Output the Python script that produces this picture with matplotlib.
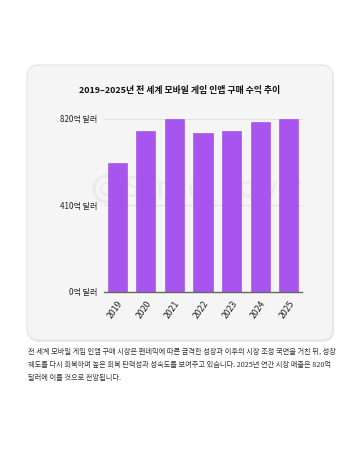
import matplotlib
matplotlib.use('Agg')
import matplotlib.pyplot as plt
from matplotlib.patches import FancyBboxPatch, Circle

plt.rcParams['font.family'] = ['Noto Sans CJK KR', 'DejaVu Sans']

# data
years = ['2019', '2020', '2021', '2022', '2023', '2024', '2025']
revenue = [612, 763, 820, 752, 763, 806, 820]   # 억 달러
ytick_vals = [0, 410, 820]
ytick_labels = ['0억 달러', '410억 달러', '820억 달러']

title = '2019–2025년 전 세계 모바일 게임 인앱 구매 수익 추이'
caption = ('전 세계 모바일 게임 인앱 구매 시장은 팬데믹에 따른 급격한 성장과 이후의 시장 조정 국면을 거친 뒤, 성장\n'
           '궤도를 다시 회복하며 높은 회복 탄력성과 성숙도를 보여주고 있습니다. 2025년 연간 시장 매출은 820억\n'
           '달러에 이를 것으로 전망됩니다.')

W, H = 359, 454
fig = plt.figure(figsize=(W / 100, H / 100), dpi=100)
fig.patch.set_facecolor('white')

# background layer in pixel coords
bg = fig.add_axes([0, 0, 1, 1], zorder=0)
bg.set_xlim(0, W)
bg.set_ylim(H, 0)
bg.axis('off')
shadow = FancyBboxPatch((28, 67), 306, 275, boxstyle='round,pad=0,rounding_size=11',
                        facecolor='#e9e9e9', edgecolor='none')
bg.add_patch(shadow)
card = FancyBboxPatch((27, 65), 306, 275, boxstyle='round,pad=0,rounding_size=11',
                      facecolor='#f5f5f5', edgecolor='#e4e4e4', linewidth=0.8)
bg.add_patch(card)
bg.text(180, 91, title, ha='center', va='center', fontsize=6.4, fontweight='bold', color='#111111')
bg.text(28, 348, caption, ha='left', va='top', fontsize=5.2, color='#333333', linespacing=1.85)

# watermark
bg.add_patch(Circle((107, 189), 13, facecolor='none', edgecolor='#000000', alpha=0.04, linewidth=2.5))
bg.add_patch(Circle((107, 189), 6, facecolor='none', edgecolor='#000000', alpha=0.04, linewidth=2))
bg.text(124, 189, 'Sensor Tower', ha='left', va='center', fontsize=21, color='#000000', alpha=0.04,
        family=['Roboto', 'DejaVu Sans'])

# chart axes
left, right, top, bottom = 104, 302, 119, 292
ax = fig.add_axes([left / W, 1 - bottom / H, (right - left) / W, (bottom - top) / H], zorder=1)
ax.patch.set_alpha(0)

x = list(range(len(years)))
ax.bar(x, revenue, width=0.67, color='#a855f0', edgecolor='#9a45e0', linewidth=0.4, zorder=3)

ax.set_xlim(-0.47, 6.47)
ax.set_ylim(0, 820)
ax.set_yticks(ytick_vals)
ax.set_yticklabels(ytick_labels, fontsize=5.8)
ax.set_xticks(x)
ax.set_xticklabels(years, rotation=55, ha='right', va='top', rotation_mode='anchor', fontsize=6.3)
ax.tick_params(axis='both', length=0, colors='#222222')
ax.tick_params(axis='y', pad=5)
ax.tick_params(axis='x', pad=5)

for v in ytick_vals[1:]:
    ax.axhline(v, color='#e2e2e2', linewidth=0.8, zorder=1, clip_on=False)

for s in ['top', 'right', 'left']:
    ax.spines[s].set_visible(False)
ax.spines['bottom'].set_color('#666666')
ax.spines['bottom'].set_linewidth(1.0)
ax.spines['bottom'].set_zorder(4)

fig.savefig('out.png', dpi=100)
